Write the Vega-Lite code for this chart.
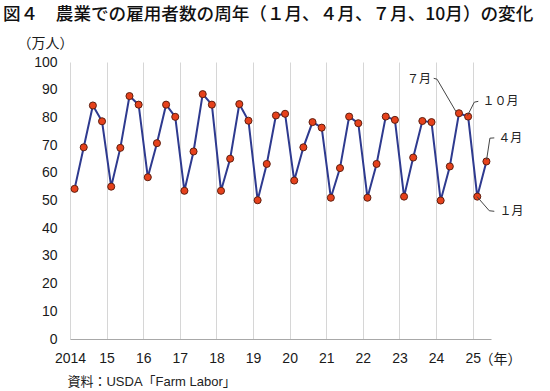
{
  "$schema": "https://vega.github.io/schema/vega-lite/v6.json",
  "width": 421,
  "height": 277,
  "autosize": {"type": "none"},
  "padding": {"left": 70, "top": 62, "right": 59, "bottom": 52},
  "background": "white",
  "config": {"view": {"stroke": null}, "font": "Liberation Sans, Noto Sans CJK JP"},
  "title": {
    "text": "図４　農業での雇用者数の周年（１月、４月、７月、10月）の変化",
    "anchor": "start",
    "frame": "group",
    "font": "Noto Sans CJK JP",
    "fontSize": 17.6,
    "fontWeight": 500,
    "color": "#111111",
    "offset": 0,
    "dx": -67,
    "dy": -12
  },
  "datasets": {
    "series": [
      {"t": 2014.125, "v": 54.2}, {"t": 2014.375, "v": 69.2}, {"t": 2014.625, "v": 84.3}, {"t": 2014.875, "v": 78.6},
      {"t": 2015.125, "v": 55.0}, {"t": 2015.375, "v": 69.0}, {"t": 2015.625, "v": 87.7}, {"t": 2015.875, "v": 84.6},
      {"t": 2016.125, "v": 58.4}, {"t": 2016.375, "v": 70.7}, {"t": 2016.625, "v": 84.6}, {"t": 2016.875, "v": 80.2},
      {"t": 2017.125, "v": 53.5}, {"t": 2017.375, "v": 67.7}, {"t": 2017.625, "v": 88.4}, {"t": 2017.875, "v": 84.6},
      {"t": 2018.125, "v": 53.5}, {"t": 2018.375, "v": 65.1}, {"t": 2018.625, "v": 84.8}, {"t": 2018.875, "v": 78.8},
      {"t": 2019.125, "v": 50.1}, {"t": 2019.375, "v": 63.2}, {"t": 2019.625, "v": 80.7}, {"t": 2019.875, "v": 81.3},
      {"t": 2020.125, "v": 57.2}, {"t": 2020.375, "v": 69.2}, {"t": 2020.625, "v": 78.3}, {"t": 2020.875, "v": 76.3},
      {"t": 2021.125, "v": 51.0}, {"t": 2021.375, "v": 61.7}, {"t": 2021.625, "v": 80.3}, {"t": 2021.875, "v": 77.9},
      {"t": 2022.125, "v": 51.0}, {"t": 2022.375, "v": 63.2}, {"t": 2022.625, "v": 80.3}, {"t": 2022.875, "v": 79.1},
      {"t": 2023.125, "v": 51.4}, {"t": 2023.375, "v": 65.5}, {"t": 2023.625, "v": 78.7}, {"t": 2023.875, "v": 78.3},
      {"t": 2024.125, "v": 50.0}, {"t": 2024.375, "v": 62.3}, {"t": 2024.625, "v": 81.5}, {"t": 2024.875, "v": 80.3},
      {"t": 2025.125, "v": 51.4}, {"t": 2025.375, "v": 64.1}
    ],
    "leaders": [
      {"id": "jul", "k": 1, "t": 2023.935, "v": 94.1},
      {"id": "jul", "k": 2, "t": 2024.025, "v": 93.8},
      {"id": "jul", "k": 3, "t": 2024.543, "v": 82.1},
      {"id": "oct", "k": 1, "t": 2025.153, "v": 85.8},
      {"id": "oct", "k": 2, "t": 2025.044, "v": 85.5},
      {"id": "oct", "k": 3, "t": 2024.86, "v": 80.7},
      {"id": "apr", "k": 1, "t": 2025.59, "v": 72.6},
      {"id": "apr", "k": 2, "t": 2025.47, "v": 72.5},
      {"id": "apr", "k": 3, "t": 2025.38, "v": 64.7},
      {"id": "jan", "k": 1, "t": 2025.117, "v": 51.4},
      {"id": "jan", "k": 2, "t": 2025.453, "v": 46.3},
      {"id": "jan", "k": 3, "t": 2025.59, "v": 46.1}
    ],
    "notes": [
      {"t": 2023.86, "v": 93.7, "label": "７月", "side": "right"},
      {"t": 2025.27, "v": 85.8, "label": "１０月", "side": "left"},
      {"t": 2025.70, "v": 72.6, "label": "４月", "side": "left"},
      {"t": 2025.73, "v": 46.1, "label": "１月", "side": "left"}
    ],
    "source": [
      {"t": 2013.93, "v": -15.7, "label": "資料：USDA「Farm Labor」"}
    ]
  },
  "encoding": {
    "x": {
      "field": "t",
      "type": "quantitative",
      "scale": {"domain": [2014, 2025.5], "nice": false, "zero": false},
      "axis": {
        "values": [2014, 2015, 2016, 2017, 2018, 2019, 2020, 2021, 2022, 2023, 2024, 2025],
        "grid": true,
        "gridColor": "#d6d6d6",
        "gridWidth": 1,
        "ticks": false,
        "domainColor": "#a8a8a8",
        "domainWidth": 1,
        "labelFontSize": 14,
        "labelColor": "#1a1a1a",
        "labelBaseline": "middle",
        "labelPadding": 19,
        "labelFlush": false,
        "labelOverlap": false,
        "labelExpr": "datum.value == 2014 ? '2014' : substring(toString(datum.value), 2, 4)",
        "title": "（年）",
        "titleFont": "Noto Sans CJK JP",
        "titleFontSize": 14,
        "titleFontWeight": "normal",
        "titleColor": "#1a1a1a",
        "titleAlign": "left",
        "titleBaseline": "middle",
        "titleX": 409,
        "titleY": 20
      }
    },
    "y": {
      "field": "v",
      "type": "quantitative",
      "scale": {"domain": [0, 100], "nice": false},
      "axis": {
        "values": [0, 10, 20, 30, 40, 50, 60, 70, 80, 90, 100],
        "grid": false,
        "domain": false,
        "ticks": false,
        "labelFontSize": 14,
        "labelColor": "#1a1a1a",
        "labelPadding": 13,
        "title": "（万人）",
        "titleFont": "Noto Sans CJK JP",
        "titleFontSize": 14,
        "titleFontWeight": "normal",
        "titleColor": "#1a1a1a",
        "titleAngle": 0,
        "titleAlign": "center",
        "titleBaseline": "middle",
        "titleX": -25,
        "titleY": -19
      }
    }
  },
  "layer": [
    {
      "data": {"name": "series"},
      "mark": {"type": "line", "color": "#2e3a8f", "strokeWidth": 2}
    },
    {
      "data": {"name": "series"},
      "mark": {"type": "point", "shape": "circle", "filled": true, "size": 50, "fill": "#e6411b", "stroke": "#5e1f10", "strokeWidth": 1, "opacity": 1}
    },
    {
      "data": {"name": "leaders"},
      "mark": {"type": "line", "color": "#444444", "strokeWidth": 1, "clip": false},
      "encoding": {
        "detail": {"field": "id"},
        "order": {"field": "k", "type": "quantitative"}
      }
    },
    {
      "data": {"name": "notes"},
      "transform": [{"filter": "datum.side == 'right'"}],
      "mark": {"type": "text", "align": "right", "baseline": "middle", "font": "Noto Sans CJK JP", "fontSize": 12, "color": "#222222"},
      "encoding": {"text": {"field": "label"}}
    },
    {
      "data": {"name": "notes"},
      "transform": [{"filter": "datum.side == 'left'"}],
      "mark": {"type": "text", "align": "left", "baseline": "middle", "font": "Noto Sans CJK JP", "fontSize": 12, "color": "#222222"},
      "encoding": {"text": {"field": "label"}}
    },
    {
      "data": {"name": "source"},
      "mark": {"type": "text", "align": "left", "baseline": "middle", "fontSize": 13, "color": "#222222"},
      "encoding": {"text": {"field": "label"}}
    }
  ]
}
